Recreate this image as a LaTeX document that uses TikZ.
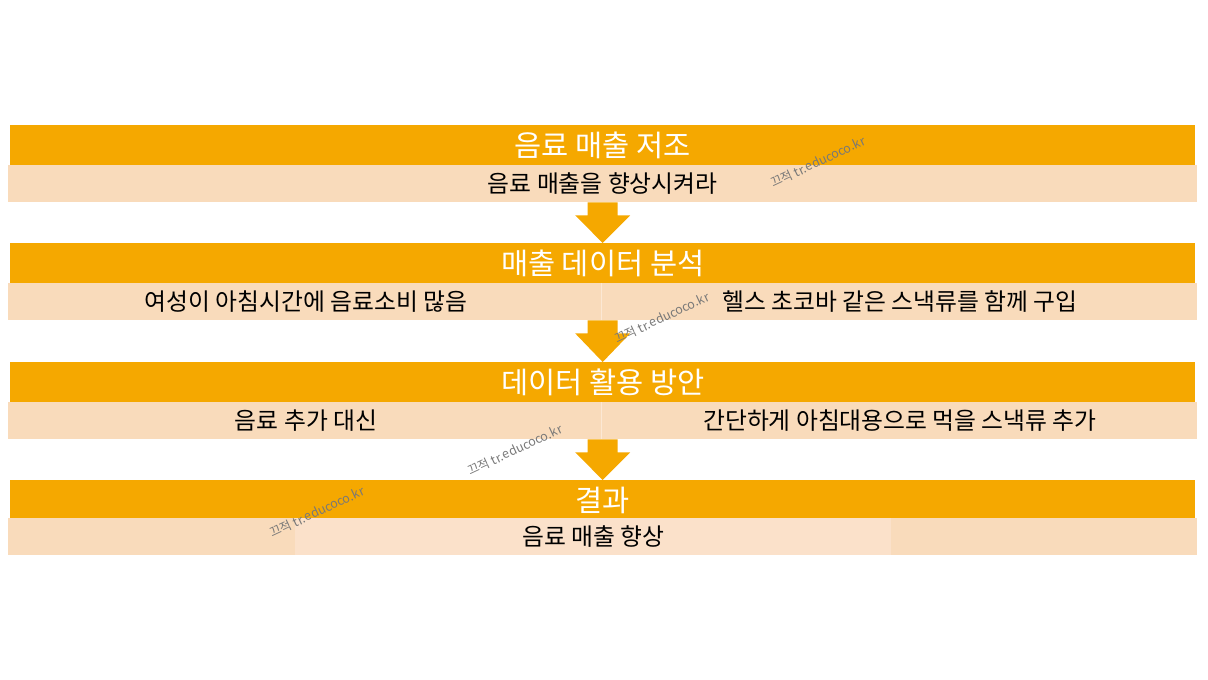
\documentclass[tikz,border=0pt]{standalone}
\usepackage{fontspec}
\setmainfont{Noto Sans CJK KR}
\usetikzlibrary{calc}
\definecolor{hdr}{RGB}{245,168,0}
\definecolor{subc}{RGB}{249,219,187}
\definecolor{subin}{RGB}{251,225,202}
\definecolor{divc}{RGB}{252,232,212}
\definecolor{wm}{RGB}{120,120,120}
\tikzset{
  hdrbox/.style={fill=hdr, draw=none, inner sep=0, minimum width=1185pt, minimum height=40pt, text=white, font=\fontsize{29.5}{32}\selectfont, anchor=north west},
  subbox/.style={fill=subc, draw=none, inner sep=0, minimum height=37pt, text=black, font=\fontsize{23.8}{26}\selectfont, anchor=north west},
  celltext/.style={text=black, font=\fontsize{23.8}{26}\selectfont, inner sep=0},
  wmark/.style={text=wm, font=\fontsize{12.5}{14}\selectfont, rotate=25, inner sep=0},
  flowarrow/.style={fill=hdr, draw=none}
}
\begin{document}
\begin{tikzpicture}[x=1pt,y=1pt]
\useasboundingbox (0,0) rectangle (1208,680);
% band 1
\node[hdrbox] (h1) at (10,555) {음료 매출 저조};
\node[subbox, minimum width=1189pt] (s1) at (8,515) {음료 매출을 향상시켜라};
% band 2
\node[hdrbox] (h2) at (10,437) {매출 데이터 분석};
\node[subbox, minimum width=1189pt] (s2) at (8,397) {};
\draw[divc, line width=1pt] ($(s2.north)+(-1,0)$) -- ($(s2.south)+(-1,0)$);
\node[celltext] (s2a) at (306,378.5) {여성이 아침시간에 음료소비 많음};
\node[celltext] (s2b) at (900,378.5) {헬스 초코바 같은 스낵류를 함께 구입};
% band 3
\node[hdrbox] (h3) at (10,318) {데이터 활용 방안};
\node[subbox, minimum width=1189pt] (s3) at (8,278) {};
\draw[divc, line width=1pt] ($(s3.north)+(-1,0)$) -- ($(s3.south)+(-1,0)$);
\node[celltext] (s3a) at (306,259.5) {음료 추가 대신};
\node[celltext] (s3b) at (900,259.5) {간단하게 아침대용으로 먹을 스낵류 추가};
% band 4
\node[hdrbox] (h4) at (10,200) {결과};
\node[subbox, minimum width=1189pt] (s4) at (8,162) {};
\node[fill=subin, inner sep=0, minimum width=596pt, minimum height=37pt, anchor=north west, celltext] (s4in) at (295,162) {음료 매출 향상};
% arrows
\foreach \s/\h in {s1/h2, s2/h3, s3/h4}{
  \fill[flowarrow] ($(\s.south)+(-15,0)$) -- ($(\s.south)+(15,0)$) -- ($(\s.south)+(15,-13)$) -- ($(\s.south)+(27.5,-13)$) -- (\h.north) -- ($(\s.south)+(-27.5,-13)$) -- ($(\s.south)+(-15,-13)$) -- cycle;
}
% watermarks
\node[wmark] (w1) at (818,518) {끄적 tr.educoco.kr};
\node[wmark] (w2) at (662,362) {끄적 tr.educoco.kr};
\node[wmark] (w3) at (515,230) {끄적 tr.educoco.kr};
\node[wmark] (w4) at (317,168) {끄적 tr.educoco.kr};
\end{tikzpicture}
\end{document}
